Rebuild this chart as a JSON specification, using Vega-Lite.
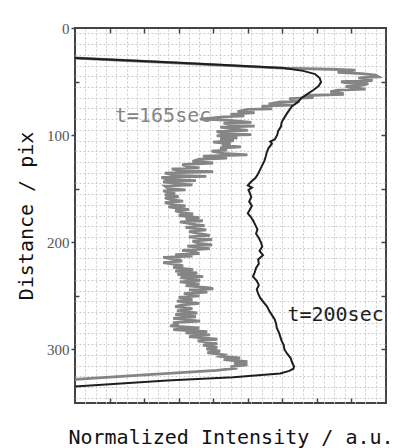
{
  "$schema": "https://vega.github.io/schema/vega-lite/v6.json",
  "width": 311,
  "height": 375,
  "autosize": {"type": "none"},
  "padding": {"left": 75, "top": 28, "right": 20, "bottom": 45},
  "background": "white",
  "config": {
    "view": {"stroke": "#444444", "strokeWidth": 2},
    "axis": {"domain": false, "tickColor": "#444444", "tickWidth": 1.5, "grid": false}
  },
  "datasets": {
    "profiles": [
      {"t":"165","d":28,"x":0},{"t":"165","d":37.4,"x":6.0},{"t":"165","d":38.5,"x":7.4},{"t":"165","d":39.3,"x":8.12},{"t":"165","d":41.5,"x":7.6},{"t":"165","d":42.5,"x":8.3},{"t":"165","d":44,"x":8.7},{"t":"165","d":45.5,"x":8.78},{"t":"165","d":46.5,"x":8.2},{"t":"165","d":47.5,"x":8.4},{"t":"165","d":49,"x":8.61},{"t":"165","d":50,"x":7.7},{"t":"165","d":51,"x":7.8},{"t":"165","d":52,"x":8.49},{"t":"165","d":53.5,"x":8.3},{"t":"165","d":54.5,"x":7.83},{"t":"165","d":56,"x":8.1},{"t":"165","d":57,"x":8.41},{"t":"165","d":58,"x":7.6},{"t":"165","d":59.5,"x":7.39},{"t":"165","d":61,"x":7.74},
      {"t":"165","d":62,"x":7.74},{"t":"165","d":63,"x":6.67},{"t":"165","d":65,"x":6.9},{"t":"165","d":66,"x":6.2},{"t":"165","d":68.5,"x":6.5},{"t":"165","d":69,"x":5.94},{"t":"165","d":71,"x":5.6},{"t":"165","d":72,"x":6.3},{"t":"165","d":73,"x":5.4},{"t":"165","d":75.5,"x":5.7},{"t":"165","d":76,"x":5.0},{"t":"165","d":78,"x":4.7},{"t":"165","d":79,"x":5.2},{"t":"165","d":80.5,"x":4.5},{"t":"165","d":82,"x":4.9},{"t":"165","d":83,"x":4.3},{"t":"165","d":85,"x":3.62},{"t":"165","d":86,"x":4.4},{"t":"165","d":88,"x":5.1},{"t":"165","d":88.8,"x":4.3},{"t":"165","d":90.5,"x":4.5},{"t":"165","d":91.5,"x":5.2},{"t":"165","d":92.5,"x":4.2},{"t":"165","d":94,"x":4.5},{"t":"165","d":95.5,"x":5.0},{"t":"165","d":96.5,"x":4.1},{"t":"165","d":98.5,"x":4.3},{"t":"165","d":99.5,"x":5.1},{"t":"165","d":100.5,"x":4.1},{"t":"165","d":102.5,"x":4.7},{"t":"165","d":103.5,"x":4.2},{"t":"165","d":105,"x":4.6},{"t":"165","d":106.5,"x":4.0},{"t":"165","d":108,"x":4.5},{"t":"165","d":109.5,"x":4.25},{"t":"165","d":111,"x":4.8},{"t":"165","d":112,"x":4.2},{"t":"165","d":114,"x":4.4},{"t":"165","d":115,"x":3.95},{"t":"165","d":117,"x":4.3},{"t":"165","d":118.5,"x":4.99},{"t":"165","d":119.5,"x":3.7},{"t":"165","d":121.5,"x":4.4},{"t":"165","d":122.5,"x":3.6},{"t":"165","d":124.5,"x":3.4},{"t":"165","d":126,"x":4.0},{"t":"165","d":127.5,"x":3.1},{"t":"165","d":129.5,"x":3.3},{"t":"165","d":130.5,"x":3.6},{"t":"165","d":131.5,"x":2.8},{"t":"165","d":133,"x":3.0},{"t":"165","d":134,"x":4.0},{"t":"165","d":135.5,"x":2.6},{"t":"165","d":137.5,"x":2.9},{"t":"165","d":138.5,"x":3.8},{"t":"165","d":139.5,"x":2.5},{"t":"165","d":141.5,"x":2.7},{"t":"165","d":142.5,"x":3.5},{"t":"165","d":143.5,"x":2.55},{"t":"165","d":145.5,"x":3.0},{"t":"165","d":146.5,"x":3.4},{"t":"165","d":147.5,"x":2.6},{"t":"165","d":150,"x":2.7},{"t":"165","d":151,"x":3.2},{"t":"165","d":152,"x":2.55},{"t":"165","d":154.5,"x":2.9},{"t":"165","d":155.5,"x":2.6},{"t":"165","d":157.5,"x":3.0},{"t":"165","d":158.5,"x":2.6},{"t":"165","d":160.5,"x":2.8},{"t":"165","d":161.5,"x":3.13},{"t":"165","d":163,"x":2.6},{"t":"165","d":165,"x":2.9},{"t":"165","d":166,"x":3.2},{"t":"165","d":167,"x":2.7},{"t":"165","d":169.5,"x":3.3},{"t":"165","d":170.5,"x":2.9},{"t":"165","d":172.5,"x":3.1},{"t":"165","d":173.5,"x":3.42},{"t":"165","d":175,"x":3.0},{"t":"165","d":177,"x":3.6},{"t":"165","d":178,"x":3.2},{"t":"165","d":180,"x":3.7},{"t":"165","d":181,"x":3.04},{"t":"165","d":183.5,"x":3.5},{"t":"165","d":184.5,"x":3.75},{"t":"165","d":186,"x":3.2},{"t":"165","d":188.5,"x":3.8},{"t":"165","d":190,"x":3.3},{"t":"165","d":192,"x":3.6},{"t":"165","d":193.5,"x":3.9},{"t":"165","d":195,"x":3.3},{"t":"165","d":197.5,"x":3.97},{"t":"165","d":199,"x":3.4},{"t":"165","d":201,"x":3.6},{"t":"165","d":202.5,"x":3.97},{"t":"165","d":203.5,"x":3.25},{"t":"165","d":206,"x":3.9},{"t":"165","d":207.5,"x":3.1},{"t":"165","d":209.5,"x":3.5},{"t":"165","d":210.5,"x":3.6},{"t":"165","d":211.5,"x":2.9},{"t":"165","d":213,"x":3.4},{"t":"165","d":214,"x":2.55},{"t":"165","d":216.5,"x":3.0},{"t":"165","d":217.5,"x":3.1},{"t":"165","d":219,"x":2.55},{"t":"165","d":221,"x":3.0},{"t":"165","d":222,"x":3.13},{"t":"165","d":223.5,"x":2.84},{"t":"165","d":225.5,"x":3.42},{"t":"165","d":227,"x":2.9},{"t":"165","d":228.5,"x":3.54},{"t":"165","d":230,"x":2.96},{"t":"165","d":232,"x":3.71},{"t":"165","d":233,"x":3.05},{"t":"165","d":235.5,"x":3.62},{"t":"165","d":237,"x":3.04},{"t":"165","d":239,"x":3.6},{"t":"165","d":240.5,"x":3.2},{"t":"165","d":242.5,"x":3.9},{"t":"165","d":243.5,"x":4.0},{"t":"165","d":244.5,"x":3.3},{"t":"165","d":246.5,"x":3.83},{"t":"165","d":248,"x":3.15},{"t":"165","d":250,"x":3.6},{"t":"165","d":251.5,"x":3.0},{"t":"165","d":253.5,"x":3.4},{"t":"165","d":255,"x":2.95},{"t":"165","d":257,"x":3.6},{"t":"165","d":258.5,"x":3.1},{"t":"165","d":260,"x":2.9},{"t":"165","d":262,"x":3.4},{"t":"165","d":264,"x":2.95},{"t":"165","d":266,"x":3.54},{"t":"165","d":267.5,"x":2.9},{"t":"165","d":269.5,"x":3.5},{"t":"165","d":271,"x":2.84},{"t":"165","d":273.5,"x":3.62},{"t":"165","d":275,"x":2.84},{"t":"165","d":277,"x":3.0},{"t":"165","d":278,"x":2.75},{"t":"165","d":280,"x":3.6},{"t":"165","d":281.5,"x":2.84},{"t":"165","d":283.5,"x":3.83},{"t":"165","d":284.5,"x":3.2},{"t":"165","d":286.5,"x":3.9},{"t":"165","d":288,"x":3.3},{"t":"165","d":290.5,"x":4.12},{"t":"165","d":292,"x":3.55},{"t":"165","d":294.5,"x":4.12},{"t":"165","d":296,"x":3.7},{"t":"165","d":298,"x":4.12},{"t":"165","d":299.5,"x":3.8},{"t":"165","d":301.5,"x":4.2},{"t":"165","d":303,"x":3.83},{"t":"165","d":305,"x":4.3},{"t":"165","d":306.5,"x":4.2},{"t":"165","d":308,"x":4.78},{"t":"165","d":309.5,"x":4.3},{"t":"165","d":311.5,"x":4.99},{"t":"165","d":313,"x":4.6},{"t":"165","d":314.5,"x":4.99},{"t":"165","d":316,"x":4.5},{"t":"165","d":317.5,"x":4.7},{"t":"165","d":319.5,"x":4.1},{"t":"165","d":324,"x":1.9},{"t":"165","d":328,"x":0},
      {"t":"200","d":28,"x":0},{"t":"200","d":32,"x":2.7},{"t":"200","d":35,"x":4.6},{"t":"200","d":37.4,"x":6.03},{"t":"200","d":40,"x":6.6},{"t":"200","d":43,"x":6.95},{"t":"200","d":46.7,"x":7.08},{"t":"200","d":50.5,"x":7.12},{"t":"200","d":54.2,"x":7.05},{"t":"200","d":57.9,"x":6.9},{"t":"200","d":61.7,"x":6.72},{"t":"200","d":65.4,"x":6.55},{"t":"200","d":69.2,"x":6.45},{"t":"200","d":72.9,"x":6.28},{"t":"200","d":76.6,"x":6.2},{"t":"200","d":80.4,"x":6.12},{"t":"200","d":84.1,"x":6.05},{"t":"200","d":88,"x":5.98},{"t":"200","d":92,"x":5.96},{"t":"200","d":96,"x":5.88},{"t":"200","d":100,"x":5.85},{"t":"200","d":104,"x":5.78},{"t":"200","d":106,"x":5.65},{"t":"200","d":108,"x":5.7},{"t":"200","d":112,"x":5.6},{"t":"200","d":116,"x":5.55},{"t":"200","d":120,"x":5.52},{"t":"200","d":124,"x":5.48},{"t":"200","d":128,"x":5.42},{"t":"200","d":132,"x":5.36},{"t":"200","d":136,"x":5.3},{"t":"200","d":140,"x":5.22},{"t":"200","d":144,"x":5.08},{"t":"200","d":147,"x":5.0},{"t":"200","d":149,"x":5.12},{"t":"200","d":151,"x":5.02},{"t":"200","d":154,"x":5.06},{"t":"200","d":158,"x":5.1},{"t":"200","d":162,"x":5.04},{"t":"200","d":166,"x":5.12},{"t":"200","d":170,"x":5.05},{"t":"200","d":173,"x":5.0},{"t":"200","d":176,"x":5.08},{"t":"200","d":180,"x":5.16},{"t":"200","d":184,"x":5.22},{"t":"200","d":188,"x":5.28},{"t":"200","d":192,"x":5.24},{"t":"200","d":196,"x":5.32},{"t":"200","d":200,"x":5.38},{"t":"200","d":204,"x":5.42},{"t":"200","d":208,"x":5.34},{"t":"200","d":212,"x":5.44},{"t":"200","d":216,"x":5.3},{"t":"200","d":220,"x":5.32},{"t":"200","d":224,"x":5.24},{"t":"200","d":228,"x":5.2},{"t":"200","d":232,"x":5.15},{"t":"200","d":236,"x":5.26},{"t":"200","d":240,"x":5.32},{"t":"200","d":244,"x":5.26},{"t":"200","d":248,"x":5.3},{"t":"200","d":252,"x":5.36},{"t":"200","d":256,"x":5.46},{"t":"200","d":260,"x":5.56},{"t":"200","d":264,"x":5.62},{"t":"200","d":268,"x":5.7},{"t":"200","d":272,"x":5.78},{"t":"200","d":276,"x":5.82},{"t":"200","d":280,"x":5.84},{"t":"200","d":284,"x":5.9},{"t":"200","d":288,"x":5.94},{"t":"200","d":292,"x":5.98},{"t":"200","d":296,"x":6.04},{"t":"200","d":300,"x":6.06},{"t":"200","d":304,"x":6.14},{"t":"200","d":308,"x":6.24},{"t":"200","d":312,"x":6.28},{"t":"200","d":316,"x":6.34},{"t":"200","d":318,"x":6.32},{"t":"200","d":320,"x":6.2},{"t":"200","d":322.4,"x":5.94},{"t":"200","d":324,"x":5.3},{"t":"200","d":326,"x":4.58},{"t":"200","d":329,"x":2.67},{"t":"200","d":334.6,"x":0}
    ],
    "labels": [
      {"label": "t=165sec", "t": "165", "x": 2.55, "d": 82},
      {"label": "t=200sec", "t": "200", "x": 7.54, "d": 268}
    ]
  },
  "layer": [
    {
      "data": {"name": "profiles"},
      "mark": {"type": "line", "opacity": 0},
      "encoding": {
        "x": {"field": "x", "type": "quantitative", "scale": {"domain": [0, 9], "nice": false, "zero": false},
          "axis": {"orient": "bottom", "values": [0.3,0.6,0.9,1.2,1.5,1.8,2.1,2.4,2.7,3.0,3.3,3.6,3.9,4.2,4.5,4.8,5.1,5.4,5.7,6.0,6.3,6.6,6.9,7.2,7.5,7.8,8.1,8.4,8.7], "grid": true, "gridColor": "#cccccc", "gridDash": [2, 2], "gridWidth": 1, "ticks": false, "labels": false, "domain": false, "title": null}},
        "y": {"field": "d", "type": "quantitative", "scale": {"domain": [0, 350], "reverse": true, "nice": false, "zero": false},
          "axis": {"orient": "left", "values": [5,15,25,35,45,55,65,75,85,95,105,115,125,135,145,155,165,175,185,195,205,215,225,235,245,255,265,275,285,295,305,315,325,335,345], "grid": true, "gridColor": "#cccccc", "gridDash": [2, 2], "gridWidth": 1, "ticks": false, "labels": false, "domain": false, "title": null}},
        "detail": {"field": "t"},
        "order": {"field": "d", "type": "quantitative"}
      }
    },
    {
      "data": {"name": "profiles"},
      "mark": {"type": "line", "opacity": 0},
      "encoding": {
        "x": {"field": "x", "type": "quantitative", "axis": {"orient": "top", "values": [1,2,3,4,5,6,7,8], "tickSize": -5, "labels": false, "title": null}},
        "y": {"field": "d", "type": "quantitative", "axis": {"orient": "right", "values": [50,100,150,200,250,300], "tickSize": -5, "labels": false, "title": null}},
        "detail": {"field": "t"},
        "order": {"field": "d", "type": "quantitative"}
      }
    },
    {
      "data": {"name": "profiles"},
      "mark": {"type": "line", "opacity": 0},
      "encoding": {
        "x": {"field": "x", "type": "quantitative", "axis": {"orient": "bottom", "values": [1,2,3,4,5,6,7,8], "tickSize": -5, "labels": false, "title": "Normalized Intensity / a.u.", "titleFont": "DejaVu Sans Mono", "titleFontSize": 20, "titleFontWeight": "normal", "titleColor": "#111111", "titlePadding": 24}},
        "y": {"field": "d", "type": "quantitative", "axis": {"orient": "left", "values": [50,150,250], "tickSize": -4, "labels": false, "title": null}},
        "detail": {"field": "t"},
        "order": {"field": "d", "type": "quantitative"}
      }
    },
    {
      "data": {"name": "profiles"},
      "mark": {"type": "line", "strokeJoin": "miter"},
      "encoding": {
        "x": {"field": "x", "type": "quantitative", "axis": null},
        "y": {"field": "d", "type": "quantitative", "axis": {"orient": "left", "values": [0,100,200,300], "tickSize": 4, "labelFont": "Liberation Serif", "labelFontSize": 15, "labelColor": "#555555", "labelPadding": 2, "title": "Distance / pix", "titleFont": "DejaVu Sans Mono", "titleFontSize": 20, "titleFontWeight": "normal", "titleColor": "#111111", "titlePadding": 10}},
        "color": {"field": "t", "type": "nominal", "scale": {"domain": ["165", "200"], "range": ["#858585", "#1e1e1e"]}, "legend": null},
        "strokeWidth": {"field": "t", "type": "nominal", "scale": {"domain": ["165", "200"], "range": [2.8, 2]}, "legend": null},
        "order": {"field": "d", "type": "quantitative"}
      }
    },
    {
      "data": {"name": "labels"},
      "mark": {"type": "text", "font": "DejaVu Sans Mono", "fontSize": 20, "align": "center", "baseline": "middle"},
      "encoding": {
        "x": {"field": "x", "type": "quantitative", "axis": null},
        "y": {"field": "d", "type": "quantitative", "axis": null},
        "text": {"field": "label"},
        "color": {"field": "t", "type": "nominal", "legend": null}
      }
    }
  ],
  "resolve": {"axis": {"x": "independent", "y": "independent"}}
}
